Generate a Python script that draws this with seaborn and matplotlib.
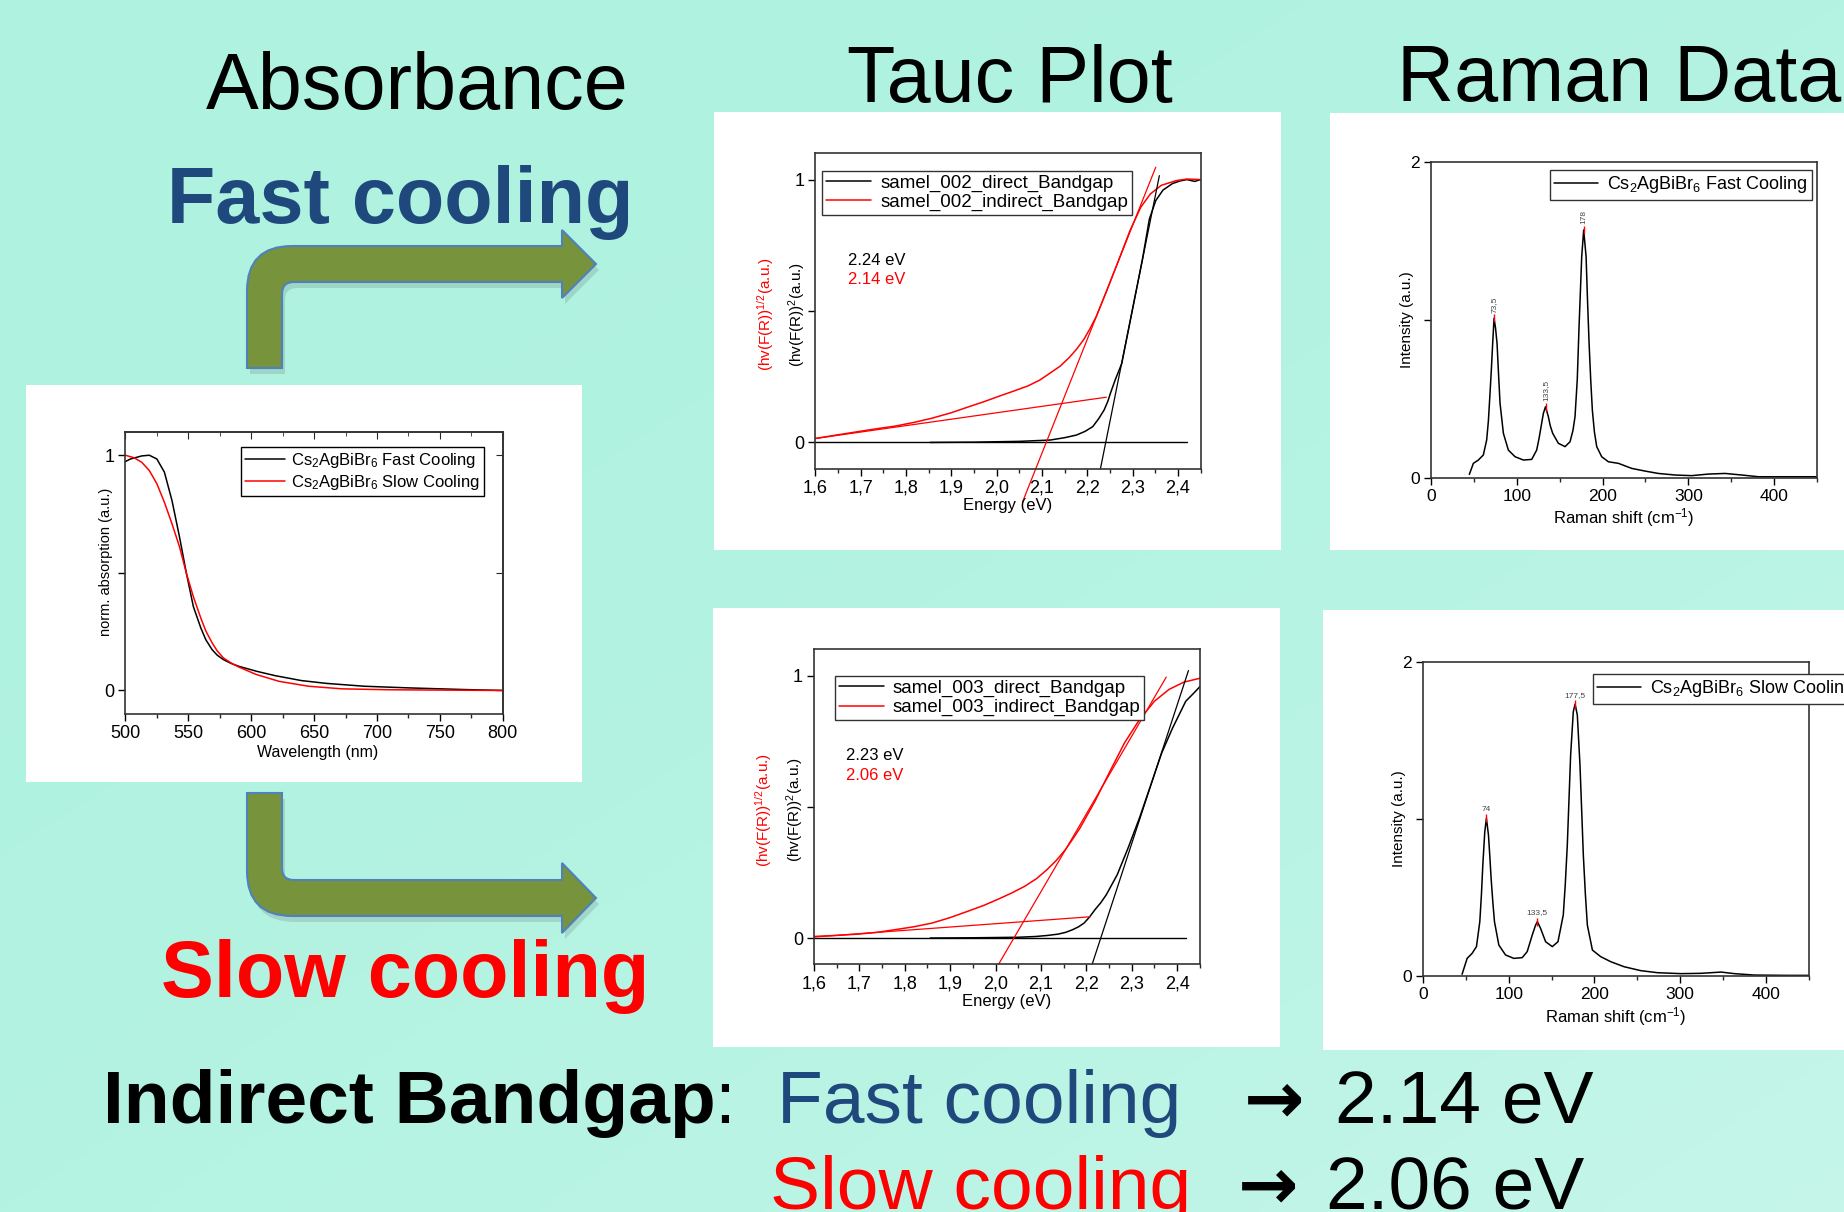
import numpy as np
import matplotlib
matplotlib.use("Agg")
import matplotlib.pyplot as plt
import matplotlib.colors as mcolors
import seaborn as sns
from matplotlib.path import Path
from matplotlib.patches import PathPatch, Rectangle
from matplotlib.ticker import MultipleLocator
from matplotlib.lines import Line2D
from matplotlib.transforms import Affine2D

W, H = 1844, 1212

# ---------------- absorbance (normalised) ----------------
wl_fast = [500, 504, 513, 519, 525, 531, 537, 543, 548.5, 554, 560, 564, 569, 573, 578,
           584, 590, 604, 619, 640, 660, 690, 725, 769, 800]
abs_fast = [0.973, 0.984, 0.997, 1.0, 0.984, 0.928, 0.808, 0.653, 0.498, 0.357, 0.265,
            0.215, 0.173, 0.150, 0.131, 0.115, 0.103, 0.082, 0.063, 0.042, 0.030, 0.018,
            0.011, 0.004, 0.0]
wl_slow = [500, 507, 513, 519, 525, 531, 537, 543, 548.5, 554, 560, 564, 569, 573, 578,
           584, 590, 604, 622, 645.6, 672, 710, 800]
abs_slow = [1.0, 0.989, 0.97, 0.935, 0.879, 0.80, 0.709, 0.611, 0.498, 0.399, 0.307,
            0.252, 0.202, 0.168, 0.138, 0.117, 0.10, 0.068, 0.039, 0.018, 0.007, 0.003,
            0.0]
abs_ticks = [500, 550, 600, 650, 700, 750, 800]

# ---------------- Tauc plot, sample 002 (fast cooling) ----------------
e_dir_002 = [1.853, 1.95, 2.05, 2.118, 2.15, 2.176, 2.195, 2.212, 2.225, 2.237, 2.245,
             2.251, 2.262, 2.276, 2.299, 2.322, 2.337, 2.351, 2.367, 2.388, 2.405, 2.42,
             2.437, 2.45]
y_dir_002 = [0.0, 0.001, 0.004, 0.009, 0.018, 0.028, 0.042, 0.06, 0.09, 0.123, 0.155,
             0.187, 0.24, 0.3, 0.5, 0.7, 0.85, 0.92, 0.96, 0.985, 0.995, 1.0, 0.993, 1.0]
e_ind_002 = [1.6, 1.65, 1.694, 1.735, 1.776, 1.817, 1.857, 1.9, 1.939, 1.972, 2.004,
             2.037, 2.069, 2.095, 2.118, 2.14, 2.159, 2.176, 2.192, 2.206, 2.22, 2.244,
             2.27, 2.294, 2.318, 2.339, 2.363, 2.396, 2.42, 2.45]
y_ind_002 = [0.015, 0.029, 0.041, 0.052, 0.062, 0.076, 0.092, 0.113, 0.136, 0.155, 0.175,
             0.195, 0.215, 0.237, 0.264, 0.29, 0.321, 0.354, 0.391, 0.433, 0.48, 0.582,
             0.697, 0.805, 0.895, 0.945, 0.978, 0.996, 1.002, 1.0]
fit_dir_e_002, fit_dir_y_002 = [2.229, 2.359], [-0.1, 1.015]
fit_ind_e_002, fit_ind_y_002 = [2.057, 2.351], [-0.227, 1.047]
fit_base_e_002, fit_base_y_002 = [1.6, 2.242], [0.015, 0.172]
zero_e_002 = [1.6, 2.42]

# ---------------- Tauc plot, sample 003 (slow cooling) ----------------
e_dir_003 = [1.856, 1.95, 2.05, 2.089, 2.115, 2.138, 2.155, 2.17, 2.183, 2.195, 2.207,
             2.219, 2.232, 2.244, 2.268, 2.292, 2.317, 2.341, 2.366, 2.39, 2.419, 2.435,
             2.451]
y_dir_003 = [0.0, 0.001, 0.003, 0.006, 0.01, 0.015, 0.022, 0.032, 0.043, 0.057, 0.08,
             0.108, 0.135, 0.165, 0.241, 0.343, 0.457, 0.578, 0.705, 0.8, 0.902, 0.93,
             0.959]
e_ind_003 = [1.6, 1.65, 1.697, 1.74, 1.779, 1.82, 1.86, 1.9, 1.942, 1.975, 2.007, 2.036,
             2.064, 2.09, 2.113, 2.134, 2.154, 2.17, 2.186, 2.219, 2.252, 2.284, 2.317,
             2.35, 2.382, 2.415, 2.451]
y_ind_003 = [0.006, 0.01, 0.015, 0.022, 0.032, 0.043, 0.057, 0.078, 0.104, 0.125, 0.149,
             0.172, 0.197, 0.226, 0.26, 0.296, 0.337, 0.377, 0.419, 0.521, 0.635, 0.743,
             0.832, 0.902, 0.947, 0.975, 0.99]
fit_dir_e_003, fit_dir_y_003 = [2.213, 2.425], [-0.099, 1.019]
fit_ind_e_003, fit_ind_y_003 = [2.007, 2.376], [-0.099, 0.994]
fit_base_e_003, fit_base_y_003 = [1.6, 2.208], [0.004, 0.081]
zero_e_003 = [1.6, 2.42]

tauc_ticks = [1.6, 1.7, 1.8, 1.9, 2.0, 2.1, 2.2, 2.3, 2.4]

# ---------------- Raman spectra ----------------
shift_fast = [44.7, 49.4, 55.2, 61, 64.9, 66.9, 68.8, 70.5, 71.9, 73.5, 75.2, 77, 78.8,
              80.5, 84.4, 90.2, 98, 107.7, 117.4, 123.2, 126, 128.3, 131, 133.5, 136.8,
              139, 141.9, 148.5, 156.3, 162.1, 165.5, 167.9, 170.5, 172.6, 175.7, 178,
              180.8, 182.5, 184.3, 186.2, 188.1, 190.5, 193.2, 199, 206.8, 218.5, 234,
              249.6, 265, 284.6, 304, 323.4, 342.8, 362.3, 381.7, 420.6, 450]
int_fast = [0.021, 0.091, 0.112, 0.144, 0.239, 0.36, 0.535, 0.7, 0.852, 1.011, 0.95,
            0.852, 0.65, 0.471, 0.281, 0.175, 0.133, 0.112, 0.116, 0.175, 0.25, 0.323,
            0.408, 0.45, 0.387, 0.33, 0.281, 0.218, 0.197, 0.228, 0.3, 0.387, 0.62, 0.958,
            1.402, 1.571, 1.402, 1.12, 0.852, 0.62, 0.429, 0.29, 0.197, 0.133, 0.101,
            0.091, 0.059, 0.042, 0.027, 0.017, 0.013, 0.023, 0.027, 0.017, 0.006, 0.006,
            0.006]
peaks_fast = [73.5, 133.5, 178]
peak_int_fast = [1.011, 0.45, 1.571]

shift_slow = [45.6, 51.5, 57.3, 62.4, 66.3, 68.2, 69.8, 72.1, 74, 76.4, 78, 79.5, 81.5,
              83.4, 88.5, 96.3, 106, 115.8, 121.6, 127.5, 131.4, 133.5, 137.2, 143.1,
              150.9, 157.5, 163.7, 166, 168.4, 172.3, 175.4, 177.5, 180.1, 183.2, 185.2,
              187.1, 189.5, 191.8, 197.7, 207.4, 219.1, 234.7, 254.2, 273.7, 301, 324.4,
              347.8, 363.4, 386.7, 425.7, 450]
int_slow = [0.011, 0.112, 0.144, 0.187, 0.346, 0.52, 0.706, 0.918, 1.003, 0.897, 0.76,
            0.621, 0.47, 0.346, 0.197, 0.134, 0.112, 0.117, 0.155, 0.261, 0.324, 0.346,
            0.303, 0.218, 0.187, 0.218, 0.388, 0.58, 0.833, 1.406, 1.682, 1.73, 1.66,
            1.342, 1.05, 0.77, 0.52, 0.324, 0.165, 0.123, 0.091, 0.059, 0.034, 0.021,
            0.015, 0.017, 0.025, 0.015, 0.006, 0.004, 0.004]
peaks_slow = [74, 133.5, 177.5]
peak_int_slow = [1.003, 0.346, 1.73]

raman_ticks = [0, 100, 200, 300, 400]

# ---------------- style ----------------
sns.set_style("ticks")
plt.rcParams["font.family"] = ["Liberation Sans", "DejaVu Sans"]
plt.rcParams["mathtext.fontset"] = "custom"
plt.rcParams["mathtext.rm"] = "Liberation Sans"
plt.rcParams["mathtext.it"] = "Liberation Sans:italic"
plt.rcParams["text.color"] = "black"
plt.rcParams["axes.labelcolor"] = "black"
plt.rcParams["axes.edgecolor"] = "#333333"
plt.rcParams["axes.linewidth"] = 1.2

BG_TOP = "#aef2df"
BG_BOTTOM = "#c6f6ea"
BLUE_TXT = "#1f497d"
ARROW_FILL = "#77933c"
ARROW_EDGE = "#4f81bd"


def box(l, t, r, b):
    return [l / W, 1 - b / H, (r - l) / W, (b - t) / H]


def fxy(x, y):
    return x / W, 1 - y / H


fig = plt.figure(figsize=(W / 100, H / 100), dpi=100)

# background, white picture panels and bent arrows (pixel coordinates)
bg = fig.add_axes([0, 0, 1, 1], zorder=-10)
bg.set_xlim(0, W)
bg.set_ylim(H, 0)
bg.axis("off")
gx, gy = np.meshgrid(np.linspace(0, 1, 200), np.linspace(0, 1, 130))
t = np.clip(0.5 * gx + 0.5 * gy, 0, 1) ** 2
c0 = np.array(mcolors.to_rgb(BG_TOP))
c1 = np.array(mcolors.to_rgb(BG_BOTTOM))
bg.imshow(c0 + (c1 - c0) * t[..., None], extent=(0, W, H, 0), aspect="auto",
          interpolation="bilinear")

panels = [(26, 385, 582, 782), (714, 112, 1281, 550), (1330, 113, 1844, 550),
          (713, 608, 1280, 1047), (1323, 610, 1844, 1050)]
for l, tp, r, b in panels:
    bg.add_patch(Rectangle((l, tp), r - l, b - tp, facecolor="white", edgecolor="none"))

M, L, C, Z = Path.MOVETO, Path.LINETO, Path.CURVE3, Path.CLOSEPOLY
arrow_codes = [M, L, C, C, L, L, L, L, L, L, C, C, L, Z]
arrow_up = [(247, 368), (247, 291), (247, 246), (292, 246), (562, 246), (562, 230),
            (596, 264), (562, 298), (562, 282), (294, 282), (282, 282), (282, 294),
            (282, 368), (247, 368)]
arrow_down = [(247, 793), (247, 871), (247, 916), (292, 916), (562, 916), (562, 933),
              (596, 898), (562, 863), (562, 880), (294, 880), (282, 880), (282, 868),
              (282, 793), (247, 793)]
for verts in (arrow_up, arrow_down):
    p = Path(verts, arrow_codes)
    bg.add_patch(PathPatch(p, facecolor="#555555", edgecolor="none", alpha=0.18,
                           transform=Affine2D().translate(3, 6) + bg.transData))
    bg.add_patch(PathPatch(p, facecolor=ARROW_FILL, edgecolor=ARROW_EDGE, lw=1.5))


def style_ticks(ax, size):
    ax.tick_params(axis="both", which="major", direction="out", length=5, width=1,
                   labelsize=size, pad=3, colors="black")
    ax.tick_params(axis="both", which="minor", direction="out", length=3, width=1)
    for s in ax.spines.values():
        s.set_visible(True)


# ---------------- absorbance panel ----------------
ax = fig.add_axes(box(125.4, 431.7, 502.8, 714))
ax.set_facecolor("white")
sns.lineplot(x=wl_fast, y=abs_fast, ax=ax, color="black", lw=1.1, sort=False,
             estimator=None, legend=False)
sns.lineplot(x=wl_slow, y=abs_slow, ax=ax, color="red", lw=1.1, sort=False,
             estimator=None, legend=False)
ax.set_xlim(500, 800)
ax.set_ylim(-0.1, 1.1)
ax.set_xticks(abs_ticks)
ax.xaxis.set_minor_locator(MultipleLocator(25))
ax.set_yticks([0, 0.5, 1])
ax.set_yticklabels(["0", "", "1"])
style_ticks(ax, 13)
secx = ax.secondary_xaxis("top")
secx.set_xticks(abs_ticks)
secx.xaxis.set_minor_locator(MultipleLocator(25))
secx.tick_params(which="both", direction="in", labeltop=False)
secx.tick_params(which="major", length=5)
secx.tick_params(which="minor", length=3)
secy = ax.secondary_yaxis("right")
secy.set_yticks([0, 0.5, 1])
secy.tick_params(direction="in", labelright=False, length=5)
ax.set_xlabel("")
ax.set_ylabel("")
ax.text(0.51, -0.137, "Wavelength (nm)", transform=ax.transAxes, ha="center",
        va="center", fontsize=11.5)
ax.text(-0.052, 0.54, "norm. absorption (a.u.)", transform=ax.transAxes, ha="center",
        va="center", rotation=90, fontsize=10.5)
ax.legend([Line2D([], [], color="black", lw=1.1), Line2D([], [], color="red", lw=1.1)],
          [r"Cs$_2$AgBiBr$_6$ Fast Cooling", r"Cs$_2$AgBiBr$_6$ Slow Cooling"],
          loc="upper left", bbox_to_anchor=(0.305, 0.946), borderaxespad=0,
          fontsize=12, frameon=True, fancybox=False, edgecolor="black", framealpha=1,
          handlelength=2.4, handletextpad=0.4, labelspacing=0.15, borderpad=0.25)


# ---------------- Tauc panels ----------------
def tauc_panel(rect, sample, e_dir, y_dir, e_ind, y_ind, fd_e, fd_y, fi_e, fi_y,
               fb_e, fb_y, zero_e, gap_dir, gap_ind, leg_anchor):
    ax = fig.add_axes(rect)
    ax.set_facecolor("white")
    sns.lineplot(x=zero_e, y=[0, 0], ax=ax, color="black", lw=1.0, legend=False)
    sns.lineplot(x=e_dir, y=y_dir, ax=ax, color="black", lw=1.1, sort=False,
                 estimator=None, legend=False)
    sns.lineplot(x=e_ind, y=y_ind, ax=ax, color="red", lw=1.1, sort=False,
                 estimator=None, legend=False)
    sns.lineplot(x=fd_e, y=fd_y, ax=ax, color="black", lw=0.9, legend=False,
                 clip_on=False)
    sns.lineplot(x=fi_e, y=fi_y, ax=ax, color="red", lw=0.9, legend=False,
                 clip_on=False)
    sns.lineplot(x=fb_e, y=fb_y, ax=ax, color="red", lw=0.9, legend=False)
    ax.set_xlim(1.6, 2.45)
    ax.set_ylim(-0.1, 1.1)
    ax.set_xticks(tauc_ticks)
    ax.set_xticklabels([f"{v:.1f}".replace(".", ",") for v in tauc_ticks])
    ax.xaxis.set_minor_locator(MultipleLocator(0.05))
    ax.set_yticks([0, 0.5, 1])
    ax.set_yticklabels(["0", "", "1"])
    style_ticks(ax, 13)
    ax.set_xlabel("")
    ax.set_ylabel("")
    ax.text(0.5, -0.118, "Energy (eV)", transform=ax.transAxes, ha="center",
            va="center", fontsize=12)
    ax.text(-0.048, 0.49, r"(hv(F(R))$^2$(a.u.)", transform=ax.transAxes,
            ha="center", va="center", rotation=90, fontsize=11)
    ax.text(-0.13, 0.49, r"(hv(F(R))$^{1/2}$(a.u.)", transform=ax.transAxes,
            ha="center", va="center", rotation=90, fontsize=11, color="red")
    ax.text(1.671, 0.694, gap_dir, ha="left", va="center", fontsize=12, color="black")
    ax.text(1.671, 0.618, gap_ind, ha="left", va="center", fontsize=12, color="red")
    ax.legend([Line2D([], [], color="black", lw=1.1), Line2D([], [], color="red", lw=1.1)],
              [f"samel_{sample}_direct_Bandgap", f"samel_{sample}_indirect_Bandgap"],
              loc="upper left", bbox_to_anchor=leg_anchor, borderaxespad=0,
              fontsize=13.5, frameon=True, fancybox=False, edgecolor="#333333",
              framealpha=1, handlelength=2.4, handletextpad=0.5, labelspacing=0.1,
              borderpad=0.2)
    return ax


tauc_panel(box(815.4, 153.3, 1200.6, 468.7), "002", e_dir_002, y_dir_002, e_ind_002,
           y_ind_002, fit_dir_e_002, fit_dir_y_002, fit_ind_e_002, fit_ind_y_002,
           fit_base_e_002, fit_base_y_002, zero_e_002, "2.24 eV", "2.14 eV",
           (0.017, 0.945))
tauc_panel(box(814, 649.3, 1199.8, 964.3), "003", e_dir_003, y_dir_003, e_ind_003,
           y_ind_003, fit_dir_e_003, fit_dir_y_003, fit_ind_e_003, fit_ind_y_003,
           fit_base_e_003, fit_base_y_003, zero_e_003, "2.23 eV", "2.06 eV",
           (0.054, 0.915))


# ---------------- Raman panels ----------------
def raman_panel(rect, shift, inten, peaks, peak_int, label, leg_loc, leg_anchor,
                rotate, label_y):
    ax = fig.add_axes(rect)
    ax.set_facecolor("white")
    sns.lineplot(x=shift, y=inten, ax=ax, color="black", lw=1.1, sort=False,
                 estimator=None, legend=False)
    ax.vlines(peaks, [v - 0.025 for v in peak_int], [v + 0.025 for v in peak_int],
              color="red", lw=1.0)
    for p, v in zip(peaks, peak_int):
        ax.annotate(f"{p:g}".replace(".", ","), xy=(p, v), xytext=(0, 4),
                    textcoords="offset points", rotation=90 if rotate else 0,
                    ha="center", va="bottom", fontsize=6, color="#444444")
    ax.set_xlim(0, 450)
    ax.set_ylim(0, 2)
    ax.set_xticks(raman_ticks)
    ax.xaxis.set_minor_locator(MultipleLocator(50))
    ax.set_yticks([0, 1, 2])
    ax.set_yticklabels(["0", "", "2"])
    style_ticks(ax, 12.5)
    ax.set_xlabel("")
    ax.set_ylabel("")
    ax.text(0.5, label_y, r"Raman shift (cm$^{-1}$)", transform=ax.transAxes,
            ha="center", va="center", fontsize=12)
    ax.text(-0.062, 0.5, "Intensity (a.u.)", transform=ax.transAxes, ha="center",
            va="center", rotation=90, fontsize=11)
    ax.legend([Line2D([], [], color="black", lw=1.1)], [label], loc=leg_loc,
              bbox_to_anchor=leg_anchor, borderaxespad=0, fontsize=13, frameon=True,
              fancybox=False, edgecolor="#333333", framealpha=1, handlelength=2.4,
              handletextpad=0.5, borderpad=0.25)
    return ax


raman_panel(box(1431, 162.3, 1817, 477.7), shift_fast, int_fast, peaks_fast,
            peak_int_fast, r"Cs$_2$AgBiBr$_6$ Fast Cooling", "upper right",
            (0.986, 0.976), True, -0.125)
raman_panel(box(1423, 661.7, 1808.6, 976), shift_slow, int_slow, peaks_slow,
            peak_int_slow, r"Cs$_2$AgBiBr$_6$ Slow Cooling", "upper left",
            (0.44, 0.961), False, -0.129)

# ---------------- slide text ----------------
fig.text(*fxy(206, 109), "Absorbance", fontsize=57, ha="left", va="baseline")
fig.text(*fxy(847, 102), "Tauc Plot", fontsize=57, ha="left", va="baseline")
fig.text(*fxy(1397, 101), "Raman Data", fontsize=57, ha="left", va="baseline")
fig.text(*fxy(167, 223), "Fast cooling", fontsize=57, fontweight="bold",
         color=BLUE_TXT, ha="left", va="baseline")
fig.text(*fxy(161, 997), "Slow cooling", fontsize=57, fontweight="bold",
         color="red", ha="left", va="baseline")

fig.text(*fxy(103, 1123), "Indirect Bandgap", fontsize=54, fontweight="bold",
         ha="left", va="baseline")
fig.text(*fxy(714, 1123), ":", fontsize=54, ha="left", va="baseline")
fig.text(*fxy(777, 1123), "Fast cooling", fontsize=54, color=BLUE_TXT, ha="left",
         va="baseline")
fig.text(*fxy(1244, 1123), "\u2192", fontsize=52, fontweight="bold",
         family=["DejaVu Sans"], ha="left", va="baseline")
fig.text(*fxy(1335, 1123), "2.14 eV", fontsize=54, ha="left", va="baseline")
fig.text(*fxy(770, 1209), "Slow cooling", fontsize=54, color="red", ha="left",
         va="baseline")
fig.text(*fxy(1238, 1209), "\u2192", fontsize=52, fontweight="bold",
         family=["DejaVu Sans"], ha="left", va="baseline")
fig.text(*fxy(1326, 1209), "2.06 eV", fontsize=54, ha="left", va="baseline")

fig.savefig("out.png", dpi=100)
